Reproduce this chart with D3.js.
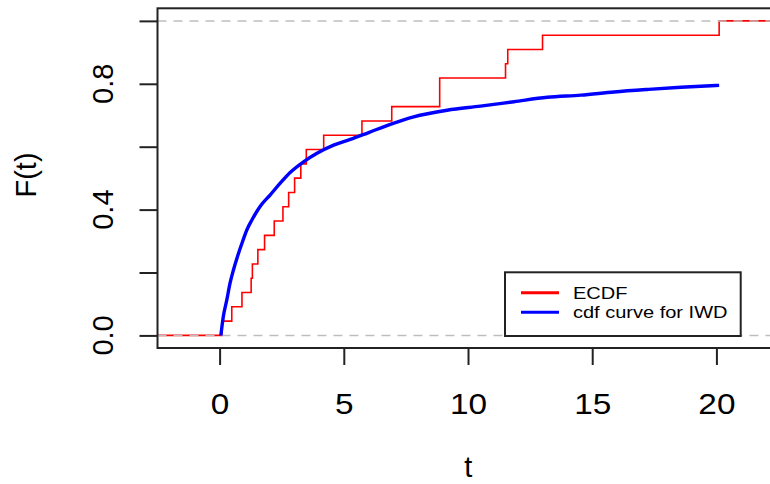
<!DOCTYPE html>
<html>
<head>
<meta charset="utf-8">
<script src="https://cdn.jsdelivr.net/npm/d3@7"></script>
<style>
  body { margin: 0; background: #fff; }
  text { font-family: "Liberation Sans", Arial, sans-serif; fill: #000; }
</style>
</head>
<body>
<script>
// observed failure times (ECDF data)
const times = [0.09, 0.49, 0.90, 1.27, 1.32, 1.54, 1.81, 2.20, 2.55, 2.78, 3.02,
               3.27, 3.49, 4.19, 5.73, 6.93, 8.86, 8.86, 11.51, 11.60, 13.00, 20.11];

// fitted IWD cdf curve
const curveT = [0.05, 0.15, 0.29, 0.42, 0.56, 0.72, 0.90, 1.10, 1.30, 1.63, 2.04, 2.44,
                2.84, 3.38, 3.92, 4.59, 5.26, 6.0, 6.9, 7.81, 9.16, 10.5, 11.85, 13.19,
                14.54, 15.88, 17.23, 18.57, 20.11];
const curveF = [0.0, 0.06, 0.113, 0.166, 0.209, 0.251, 0.293, 0.336, 0.367, 0.41, 0.447, 0.484,
                0.518, 0.552, 0.579, 0.605, 0.623, 0.645, 0.672, 0.695, 0.716, 0.729, 0.743, 0.757,
                0.764, 0.774, 0.782, 0.789, 0.795];

const xTicks = [0, 5, 10, 15, 20];
const yTicks = [0, 0.2, 0.4, 0.6, 0.8, 1.0];
const yLabels = [0, 0.4, 0.8];
const legendItems = ["ECDF", "cdf curve for IWD"];
const legendColors = ["#ff0000", "#0000ff"];

const W = 770, H = 484;
const plot = {left: 157.5, top: 8.3, right: 781, bottom: 348};

var x = d3.scaleLinear().domain([-2.5, 22.6]).range([plot.left, plot.right]);
var y = d3.scaleLinear().domain([-0.04, 1.04]).range([plot.bottom, plot.top]);

var svg = d3.select("body").append("svg")
    .attr("width", W)
    .attr("height", H);

svg.append("defs").append("clipPath").attr("id", "clip")
  .append("rect")
    .attr("x", plot.left).attr("y", plot.top)
    .attr("width", plot.right - plot.left).attr("height", plot.bottom - plot.top);

var g = svg.append("g").attr("clip-path", "url(#clip)");

// ecdf step points
var sorted = times.slice().sort(d3.ascending);
var n = sorted.length;
var steps = [[-2.5, 0]];
sorted.forEach(function(t, i) { steps.push([t, (i + 1) / n]); });
steps.push([22.6, 1]);

var stepLine = d3.line()
    .x(function(d) { return x(d[0]); })
    .y(function(d) { return y(d[1]); })
    .curve(d3.curveStepAfter);

g.append("path")
    .datum(steps)
    .attr("fill", "none")
    .attr("stroke", "#ff0000")
    .attr("stroke-width", 1.6)
    .attr("d", stepLine);

// gray dashed reference lines at 0 and 1
g.selectAll("line.ref")
    .data([0, 1])
  .enter().append("line")
    .attr("class", "ref")
    .attr("x1", plot.left).attr("x2", plot.right)
    .attr("y1", function(d) { return y(d); })
    .attr("y2", function(d) { return y(d); })
    .attr("stroke", "#bebebe")
    .attr("stroke-width", 1.5)
    .attr("stroke-dasharray", "9,7");

// fitted cdf curve
var curveLine = d3.line()
    .x(function(d, i) { return x(curveT[i]); })
    .y(function(d) { return y(d); })
    .curve(d3.curveMonotoneX);

g.append("path")
    .datum(curveF)
    .attr("fill", "none")
    .attr("stroke", "#0000ff")
    .attr("stroke-width", 3.4)
    .attr("d", curveLine);

// box
svg.append("rect")
    .attr("x", plot.left).attr("y", plot.top)
    .attr("width", plot.right - plot.left).attr("height", plot.bottom - plot.top)
    .attr("fill", "none")
    .attr("stroke", "#222")
    .attr("stroke-width", 2);

// x axis
var xAxis = svg.append("g")
    .attr("transform", "translate(0," + plot.bottom + ")")
    .call(d3.axisBottom(x).tickValues(xTicks).tickSize(17).tickPadding(28).tickFormat(d3.format("d")));
xAxis.select(".domain").remove();
xAxis.selectAll(".tick line").attr("stroke", "#222").attr("stroke-width", 2);
xAxis.selectAll(".tick text")
    .attr("font-size", 29)
    .attr("font-family", "Liberation Sans, Arial, sans-serif")
    .attr("fill", "#000")
    .attr("transform", "scale(1.15,1)");

// y axis
var yAxis = svg.append("g")
    .attr("transform", "translate(" + plot.left + ",0)")
    .call(d3.axisLeft(y).tickValues(yTicks).tickSize(18).tickFormat(""));
yAxis.select(".domain").remove();
yAxis.selectAll(".tick line").attr("stroke", "#222").attr("stroke-width", 2);

svg.selectAll("text.ylab")
    .data(yLabels)
  .enter().append("text")
    .attr("class", "ylab")
    .attr("transform", function(d) { return "translate(113," + y(d) + ") rotate(-90)"; })
    .attr("text-anchor", "middle")
    .attr("font-size", 29)
    .text(function(d) { return d3.format(".1f")(d); });

// axis titles
svg.append("text")
    .attr("x", (plot.left + plot.right) / 2 - 1)
    .attr("y", 477)
    .attr("text-anchor", "middle")
    .attr("font-size", 29)
    .text("t");

svg.append("text")
    .attr("transform", "translate(36,175) rotate(-90)")
    .attr("text-anchor", "middle")
    .attr("font-size", 29)
    .text("F(t)");

// legend
var leg = svg.append("g");
leg.append("rect")
    .attr("x", 505).attr("y", 272.3)
    .attr("width", 235.7).attr("height", 63.7)
    .attr("fill", "#fff")
    .attr("stroke", "#222")
    .attr("stroke-width", 2);

var items = leg.selectAll("g.item")
    .data(legendItems)
  .enter().append("g")
    .attr("class", "item")
    .attr("transform", function(d, i) { return "translate(0," + (292.7 + i * 19.6) + ")"; });

items.append("line")
    .attr("x1", 521).attr("x2", 559)
    .attr("stroke", function(d, i) { return legendColors[i]; })
    .attr("stroke-width", 3);

items.append("text")
    .attr("transform", "translate(573,6) scale(1.25,1)")
    .attr("font-size", 16)
    .text(function(d) { return d; });
</script>
</body>
</html>
